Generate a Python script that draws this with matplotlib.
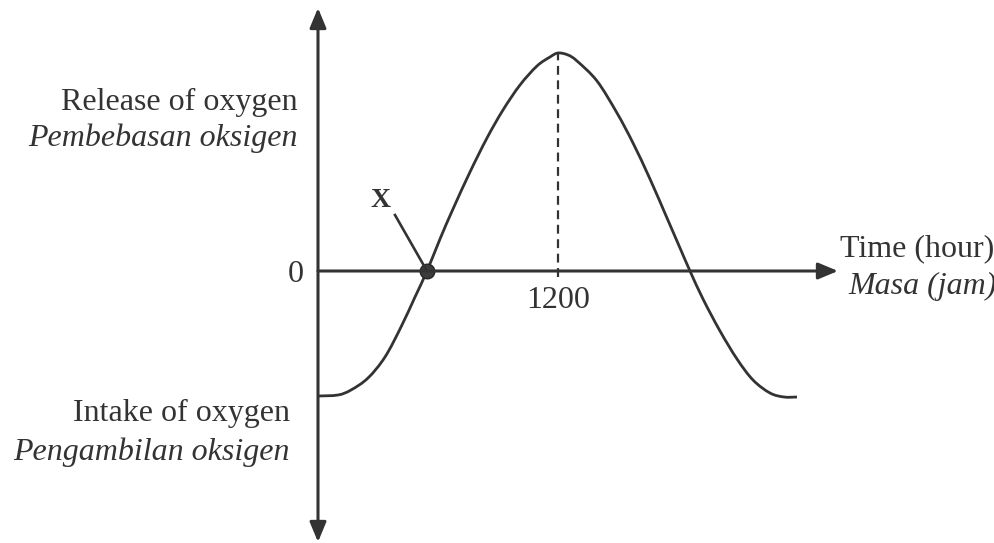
import numpy as np
import matplotlib.pyplot as plt
from matplotlib.path import Path
from matplotlib.patches import PathPatch

# curve: time (hours) vs oxygen exchange (arbitrary units)
jam = [0, 100, 165, 250, 335, 415, 485, 545, 610, 675, 760, 845, 925, 1010,
       1095, 1160, 1200, 1250, 1295, 1395, 1495, 1575, 1660, 1745, 1810, 1860,
       1925, 2010, 2095, 2175, 2260, 2330, 2395]
oksigen = [-12.5, -12.4, -11.9, -10.7, -8.6, -5.6, -2.6, 0.0, 3.2, 6.2, 9.9,
           13.3, 16.1, 18.6, 20.5, 21.4, 21.8, 21.6, 21.0, 19.0, 15.8, 12.8,
           9.2, 5.3, 2.3, 0.0, -2.8, -6.0, -8.8, -10.9, -12.2, -12.6, -12.6]
titik_x = (545, 0.0)
puncak = (1200, 21.8)
tick_lbl = "1200"

plt.rcParams['font.family'] = ['Liberation Serif', 'DejaVu Serif']
warna = '#333333'

fig = plt.figure(figsize=(9.95, 5.43), dpi=100)
ax = fig.add_axes([0, 0, 1, 1])
ax.set_xlim(-1590, 3385)
ax.set_ylim(-27.2, 27.1)
ax.axis('off')

# axes with arrows
ax.annotate('', xy=(0, 26.3), xytext=(0, -27.1),
            arrowprops=dict(arrowstyle='<|-|>,head_length=12,head_width=5',
                            mutation_scale=1, lw=2.2, color=warna,
                            shrinkA=0, shrinkB=0))
ax.annotate('', xy=(2600, 0), xytext=(0, 0),
            arrowprops=dict(arrowstyle='-|>,head_length=12,head_width=5',
                            mutation_scale=1, lw=2.2, color=warna,
                            shrinkA=0, shrinkB=0))

# curve: smooth bezier through the read points (catmull-rom handles)
p = np.column_stack([jam, oksigen]).astype(float)
verts = [p[0]]
codes = [Path.MOVETO]
for i in range(len(p) - 1):
    a = p[i - 1] if i > 0 else p[i]
    d = p[i + 2] if i + 2 < len(p) else p[i + 1]
    c1 = p[i] + (p[i + 1] - a) / 6
    c2 = p[i + 1] - (d - p[i]) / 6
    verts += [c1, c2, p[i + 1]]
    codes += [Path.CURVE4] * 3
ax.add_patch(PathPatch(Path(verts, codes), fill=False, ec=warna, lw=2.0,
                       capstyle='butt'))

# dashed line at the peak
ax.plot([puncak[0], puncak[0]], [-0.6, puncak[1]], color=warna, lw=1.6,
        ls=(0, (4, 2.5)))

# point X
ax.plot(*titik_x, 'o', ms=10.5, color='#3c3c3c', mec='#262626', mew=1)
ax.plot([385, titik_x[0]], [5.6, titik_x[1]], color=warna, lw=1.9)
ax.text(315, 7.0, 'X', fontsize=20, fontweight='bold', ha='center',
        va='center', color=warna)

fs = 23
ax.text(-110, -0.35, '0', fontsize=fs, ha='center', va='center', color=warna)
ax.text(puncak[0], -3.0, tick_lbl, fontsize=fs, ha='center', va='center',
        color=warna)

ax.text(-100, 16.9, 'Release of oxygen', fontsize=fs, ha='right',
        va='center', color=warna)
ax.text(-100, 13.3, 'Pembebasan oksigen', fontsize=fs, ha='right',
        va='center', style='italic', color=warna)
ax.text(-140, -14.2, 'Intake of oxygen', fontsize=fs, ha='right',
        va='center', color=warna)
ax.text(-140, -18.1, 'Pengambilan oksigen', fontsize=fs, ha='right',
        va='center', style='italic', color=warna)

ax.text(2610, 2.2, 'Time (hour)', fontsize=fs, ha='left', va='center',
        color=warna)
ax.text(2650, -1.5, 'Masa (jam)', fontsize=fs, ha='left', va='center',
        style='italic', color=warna)

fig.savefig('out.png', dpi=100)
